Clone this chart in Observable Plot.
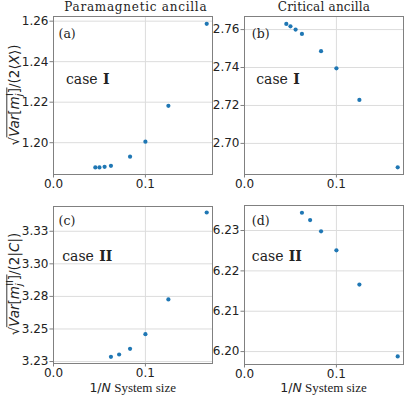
<!DOCTYPE html>
<html><head><meta charset="utf-8">
<script src="https://cdn.jsdelivr.net/npm/d3@7"></script>
<script src="https://cdn.jsdelivr.net/npm/@observablehq/plot@0.6"></script>
<style>
body{margin:0;background:#fff;}
#fig{position:relative;width:415px;height:396px;overflow:hidden;background:#fff;}
#fig > svg{position:absolute;}
</style></head><body><div id="fig"></div>
<script>
// 1/N values (system sizes N = 22,20,18,16,12,10,8,6 and 16,14,12,10,8,6)
const invN_I = [0.0455, 0.05, 0.0556, 0.0625, 0.0833, 0.1, 0.125, 0.1667];
const invN_II = [0.0625, 0.0714, 0.0833, 0.1, 0.125, 0.1667];
// series values
const paraI = [1.1878, 1.1878, 1.1881, 1.1886, 1.1931, 1.2005, 1.2182, 1.2587];
const critI = [2.7630, 2.7617, 2.7600, 2.7577, 2.7486, 2.7396, 2.7229, 2.6874];
const paraII = [3.2286, 3.2304, 3.2348, 3.2460, 3.2727, 3.3394];
const critII = [6.2344, 6.2326, 6.2298, 6.2251, 6.2166, 6.1988];
// ticks
const xTicks = [0, 0.1];
const xTickLabels = ["0.0", "0.1"];
const ticksA = [1.20, 1.22, 1.24, 1.26];
const labelsA = ["1.20", "1.22", "1.24", "1.26"];
const ticksB = [2.70, 2.72, 2.74, 2.76];
const labelsB = ["2.70", "2.72", "2.74", "2.76"];
const ticksC = [3.225, 3.25, 3.275, 3.30, 3.325];
const labelsC = ["3.23", "3.25", "3.28", "3.30", "3.33"];
const ticksD = [6.20, 6.21, 6.22, 6.23];
const labelsD = ["6.20", "6.21", "6.22", "6.23"];
const titles = ["Paramagnetic ancilla", "Critical ancilla"];
const tags = ["(a)", "(b)", "(c)", "(d)"];

const fig = document.getElementById("fig");
const dotColor = "#1f77b4";
const frameColor = "#808080";
const gridColor = "#dcdcdc";

function panel(o) {
  const data = o.x.map((v, i) => ({x: v, y: o.y[i]}));
  const fmtX = d => xTickLabels[xTicks.indexOf(d)];
  const fmtY = d => o.yLabels[o.yTicks.indexOf(d)];
  const p = Plot.plot({
    width: o.w, height: o.h,
    marginLeft: o.m[3], marginRight: o.m[1], marginTop: o.m[0], marginBottom: o.m[2],
    x: {domain: [0, 0.173]},
    y: {domain: o.yDomain},
    style: {fontFamily: "DejaVu Sans", fontSize: "12px", color: "#222", background: "transparent", overflow: "visible"},
    marks: [
      Plot.gridX(xTicks, {stroke: gridColor, strokeOpacity: 1, strokeWidth: 1}),
      Plot.gridY(o.yTicks, {stroke: gridColor, strokeOpacity: 1, strokeWidth: 1}),
      Plot.frame({stroke: frameColor, strokeWidth: 1}),
      Plot.axisX(xTicks, {tickSize: 3.5, tickPadding: 1.5, stroke: frameColor, fill: "#222", tickFormat: fmtX, label: null}),
      Plot.axisY(o.yTicks, {tickSize: 3.5, tickPadding: 1.5, stroke: frameColor, fill: "#222", tickFormat: fmtY, label: null}),
      Plot.dot(data, {x: "x", y: "y", r: 2.1, fill: dotColor, stroke: "none"}),
      Plot.text([o.tag], {text: d => d, frameAnchor: "top-left", textAnchor: "start", lineAnchor: "middle", dx: o.tagOff[0], dy: o.tagOff[1], fontFamily: "DejaVu Serif", fontSize: 12.5, fill: "#222"}),
      Plot.text(["case"], {text: d => d, frameAnchor: "top-left", textAnchor: "start", lineAnchor: "bottom", dx: o.caseOff[0], dy: o.caseOff[1], fontFamily: "DejaVu Serif", fontSize: 14, fill: "#222"}),
      Plot.text([o.roman], {text: d => d, frameAnchor: "top-left", textAnchor: "start", lineAnchor: "bottom", dx: o.caseOff[0] + 37, dy: o.caseOff[1], fontFamily: "DejaVu Serif", fontWeight: "bold", fontSize: 14, fill: "#222"})
    ]
  });
  p.style.left = o.left + "px";
  p.style.top = o.top + "px";
  fig.appendChild(p);
}

panel({x: invN_I, y: paraI, yDomain: [1.1843, 1.2623], yTicks: ticksA, yLabels: labelsA, tag: tags[0], roman: "I",
  left: 0, top: 0, w: 215, h: 196, m: [16, 3, 22, 53], tagOff: [5, 17], caseOff: [12.5, 67.5]});
panel({x: invN_I, y: critI, yDomain: [2.6836, 2.7669], yTicks: ticksB, yLabels: labelsB, tag: tags[1], roman: "I",
  left: 200, top: 0, w: 215, h: 196, m: [16, 12, 22, 44], tagOff: [7.3, 17], caseOff: [11.7, 67.5]});
panel({x: invN_II, y: paraII, yDomain: [3.2235, 3.344], yTicks: ticksC, yLabels: labelsC, tag: tags[2], roman: "II",
  left: 0, top: 196, w: 215, h: 200, m: [10, 3, 33, 53], tagOff: [5, 14], caseOff: [8.7, 54.5]});
panel({x: invN_II, y: critII, yDomain: [6.1968, 6.2362], yTicks: ticksD, yLabels: labelsD, tag: tags[3], roman: "II",
  left: 200, top: 196, w: 215, h: 200, m: [9, 12, 32, 44], tagOff: [7.3, 15], caseOff: [7.3, 55.5]});

// overlay: titles and axis labels
const svg = d3.select(fig).append("svg").attr("width", 415).attr("height", 396)
  .style("left", "0px").style("top", "0px").style("pointer-events", "none");

svg.append("text").attr("x", 135.8).attr("y", 11).attr("text-anchor", "middle")
  .attr("font-family", "DejaVu Serif").attr("font-size", 12).attr("letter-spacing", 0.75).attr("fill", "#222").text(titles[0]);
svg.append("text").attr("x", 324).attr("y", 11).attr("text-anchor", "middle")
  .attr("font-family", "DejaVu Serif").attr("font-size", 12).attr("letter-spacing", 0.2).attr("fill", "#222").text(titles[1]);

function xLabel(cx) {
  const t = svg.append("text").attr("x", cx).attr("y", 391.5).attr("text-anchor", "middle").attr("font-size", 12.5).attr("fill", "#222");
  t.append("tspan").attr("font-family", "DejaVu Sans").text("1/");
  t.append("tspan").attr("font-family", "DejaVu Sans").attr("font-style", "italic").text("N");
  t.append("tspan").attr("font-family", "Liberation Serif").attr("font-size", 13).text("\u00a0System size");
}
xLabel(132.7);
xLabel(323.5);

function yLabel(cx, cy, sup, tail) {
  const g = svg.append("g").attr("transform", `translate(${cx},${cy}) rotate(-90)`);
  const t = g.append("text").attr("text-anchor", "middle").attr("font-family", "DejaVu Sans").attr("font-size", 13.5).attr("fill", "#222");
  t.append("tspan").text("\u221a");
  t.append("tspan").attr("font-style", "italic").text("Var");
  t.append("tspan").text("[");
  t.append("tspan").attr("font-style", "italic").text("m");
  t.append("tspan").attr("font-style", "italic").attr("font-size", 9.5).attr("dy", 3).text("j");
  t.append("tspan").attr("font-size", 9.5).attr("dx", -2.5).attr("dy", -9).text(sup);
  t.append("tspan").attr("dy", 6).text("]");
  for (const [s, it] of tail) {
    const ts = t.append("tspan").text(s);
    if (it) ts.attr("font-style", "italic");
  }
  // overline of the radical, from after the root sign to the closing bracket
  const node = t.node();
  const idxClose = 1 + 3 + 1 + 1 + 1 + sup.length; // index of "]"
  const x0 = node.getEndPositionOfChar(0).x - 0.5;
  const x1 = node.getEndPositionOfChar(idxClose).x + 0.5;
  g.append("line").attr("x1", x0).attr("x2", x1).attr("y1", -12.2).attr("y2", -12.2)
    .attr("stroke", "#222").attr("stroke-width", 0.9);
}
yLabel(19, 95, "I", [["/(2\u27e8", false], ["X", true], ["\u27e9)", false]]);
yLabel(19, 284, "II", [["/(2|", false], ["C", true], ["|)", false]]);
</script></body></html>
